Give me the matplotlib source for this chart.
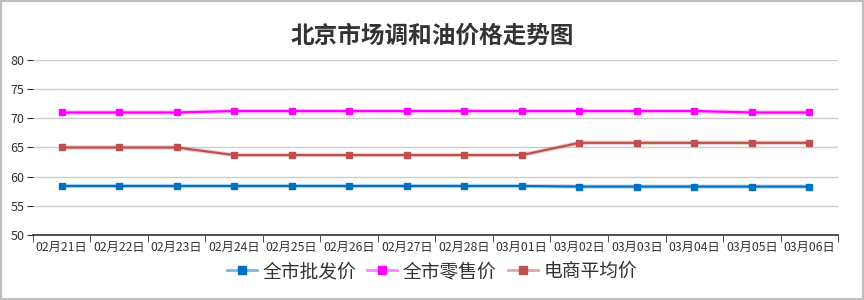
import matplotlib
matplotlib.use("Agg")
import matplotlib.pyplot as plt
from matplotlib.patches import Rectangle
from matplotlib.lines import Line2D
from matplotlib.legend_handler import HandlerTuple

plt.rcParams['font.family'] = ['Noto Sans CJK SC', 'DejaVu Sans']

dates = ["02月21日", "02月22日", "02月23日", "02月24日", "02月25日", "02月26日", "02月27日",
         "02月28日", "03月01日", "03月02日", "03月03日", "03月04日", "03月05日", "03月06日"]
wholesale = [58.4, 58.4, 58.4, 58.4, 58.4, 58.4, 58.4, 58.4, 58.4, 58.3, 58.3, 58.3, 58.3, 58.3]
retail = [71.0, 71.0, 71.0, 71.25, 71.25, 71.25, 71.25, 71.25, 71.25, 71.25, 71.25, 71.25, 71.0, 71.0]
ecommerce = [65.0, 65.0, 65.0, 63.7, 63.7, 63.7, 63.7, 63.7, 63.7, 65.8, 65.8, 65.8, 65.8, 65.8]
series_names = ["全市批发价", "全市零售价", "电商平均价"]
colors = ["#0070c0", "#ff00ff", "#c0504d"]
yticks = [50, 55, 60, 65, 70, 75, 80]

fig = plt.figure(figsize=(8.64, 3.0), dpi=100)
fig.patch.set_facecolor("white")
fig.patches.append(Rectangle((0, 0), 1, 1, transform=fig.transFigure, fill=False,
                             edgecolor="#c0c0c0", linewidth=3, zorder=10))

ax = fig.add_axes([0.038, 0.2167, 0.932, 0.5833])
x = list(range(len(dates)))
handles = []
for vals, c, name in zip([wholesale, retail, ecommerce], colors, series_names):
    ax.plot(x, vals, color=c, linewidth=3.2, alpha=0.25, zorder=2)
    ax.plot(x, vals, color=c, linewidth=1.6, marker="s", markersize=4.5,
            markeredgecolor=c, zorder=3)
    lh = Line2D([], [], color=c, alpha=0.5, linewidth=2)
    mh = Line2D([], [], color=c, marker="s", markersize=5.5, linestyle="none")
    handles.append((lh, mh))

ax.set_xlim(-0.5, len(dates) - 0.5)
ax.set_ylim(50, 80)
ax.set_yticks(yticks)
ax.yaxis.grid(True, color="#cccccc", linewidth=1)
ax.set_axisbelow(True)
ax.set_xticks(x)
ax.set_xticklabels(dates)
ax.set_xticks([i + 0.5 for i in range(-1, len(dates))], minor=True)
ax.tick_params(axis="x", which="major", length=0, labelsize=8.8, colors="#333333", pad=4)
ax.tick_params(axis="x", which="minor", length=5, color="#333333")
ax.tick_params(axis="y", length=4, color="#333333", labelsize=9, labelcolor="#333333", pad=2)
for s in ["top", "right", "left"]:
    ax.spines[s].set_visible(False)
ax.spines["bottom"].set_color("#333333")
ax.spines["bottom"].set_linewidth(1.2)

fig.text(0.5, 0.88, "北京市场调和油价格走势图", ha="center", va="center",
         fontsize=17, fontweight="bold", color="#333333")

leg = fig.legend(handles=handles, labels=series_names, loc="center",
                 bbox_to_anchor=(0.5, 0.095), ncol=3,
                 handler_map={tuple: HandlerTuple(ndivide=1)},
                 frameon=False, fontsize=13.5, handlelength=1.6, handletextpad=0.3,
                 columnspacing=0.6, labelcolor="#333333")

fig.savefig("out.png", dpi=100, facecolor="white")
